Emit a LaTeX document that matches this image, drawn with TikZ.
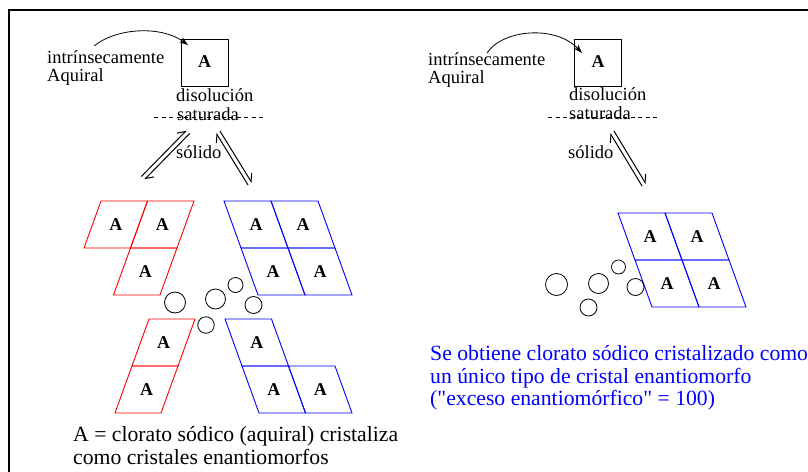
\documentclass[tikz,border=0pt]{standalone}
\usepackage{fontspec}
\setmainfont{Liberation Serif}
\newfontfamily\rawfont{Liberation Serif}[Ligatures=TeXOff]
\usetikzlibrary{arrows.meta,calc}
\newcommand\equil[2]{%
  \draw[harp] ($(#1)!2.2pt!90:(#2)$) -- ($(#2)!2.2pt!-90:(#1)$);
  \draw[harp] ($(#2)!2.2pt!90:(#1)$) -- ($(#1)!2.2pt!-90:(#2)$);}
\begin{document}
\begin{tikzpicture}[x=1pt,y=-1pt,
  lbl/.style={anchor=base west, inner sep=0pt, font=\fontsize{18.5}{18}\selectfont},
  big/.style={anchor=base west, inner sep=0pt, font=\fontsize{21.7}{23}\selectfont},
  cellA/.style={font=\bfseries\fontsize{18}{18}\selectfont, inner sep=0pt, text=black},
  boxA/.style={draw, line width=0.8pt, minimum size=47pt, inner sep=0pt, font=\bfseries\fontsize{18}{18}\selectfont},
  harp/.style={line width=1pt, -{Straight Barb[left,length=7pt,width=10pt]}},
  curv/.style={line width=0.8pt, -{Stealth[length=9pt,width=6pt]}},
  dashln/.style={line width=0.8pt, dash pattern=on 4pt off 3.5pt},
  circ/.style={circle, draw, inner sep=0pt, line width=0.8pt},
  cellline/.style={line width=0.9pt}]
\useasboundingbox (0,0) rectangle (808,471);
% frame
\draw[line width=2pt] (9,480) -- (9,10) -- (820,10);

% ---------- left panel ----------
\node[boxA] (boxL) at (204.5,62.5) {\raisebox{2pt}{A}};
\node[lbl] (intL) at (47,63) {intrínsecamente};
\node[lbl] (aqL) at (47,81) {Aquiral};
\coordinate (cLs) at (94,46);
\coordinate (cLe) at (188,45);
\draw[curv] (cLs) .. controls (118,27) and (162,26) .. (cLe);
\node[lbl] (disL) at (176,101) {disolución};
\node[lbl] (satL) at (177,120) {saturada};
\coordinate (dL1) at (154,117);
\coordinate (dL2) at (263,117);
\draw[dashln] (dL1) -- (dL2);
\node[lbl] (solL) at (176,158) {sólido};
\coordinate (e1a) at (143,178);
\coordinate (e1b) at (188,132);
\equil{e1a}{e1b}
\coordinate (e2a) at (218,132);
\coordinate (e2b) at (250,184);
\equil{e2a}{e2b}

% red upper
\begin{scope}[shift={(101,201)}, x={(46.5pt,0pt)}, y={(-17pt,-47pt)}, red, cellline]
\foreach \i/\j [count=\k] in {0/0,1/0,1/1}{
  \draw (\i,\j) -- ++(1,0) -- ++(0,1) -- ++(-1,0) -- cycle;
  \node[cellA] (ru\k) at (\i+.5,\j+.5) {A};}
\end{scope}
% blue upper
\begin{scope}[shift={(224,201)}, x={(47pt,0pt)}, y={(17pt,-47pt)}, blue, cellline]
\foreach \i/\j [count=\k] in {0/0,1/0,0/1,1/1}{
  \draw (\i,\j) -- ++(1,0) -- ++(0,1) -- ++(-1,0) -- cycle;
  \node[cellA] (bu\k) at (\i+.5,\j+.5) {A};}
\end{scope}
% red lower
\begin{scope}[shift={(149,319)}, x={(46pt,0pt)}, y={(-17pt,-47pt)}, red, cellline]
\foreach \i/\j [count=\k] in {0/0,0/1}{
  \draw (\i,\j) -- ++(1,0) -- ++(0,1) -- ++(-1,0) -- cycle;
  \node[cellA] (rl\k) at (\i+.5,\j+.5) {A};}
\end{scope}
% blue lower
\begin{scope}[shift={(225,319)}, x={(46.5pt,0pt)}, y={(17pt,-47pt)}, blue, cellline]
\foreach \i/\j [count=\k] in {0/0,0/1,1/1}{
  \draw (\i,\j) -- ++(1,0) -- ++(0,1) -- ++(-1,0) -- cycle;
  \node[cellA] (bl\k) at (\i+.5,\j+.5) {A};}
\end{scope}
% circles left
\node[circ, minimum size=21pt] (lc1) at (175,302.5) {};
\node[circ, minimum size=20pt] (lc2) at (215.5,299) {};
\node[circ, minimum size=15pt] (lc3) at (235.5,285) {};
\node[circ, minimum size=17pt] (lc4) at (253.5,305) {};
\node[circ, minimum size=16.5pt] (lc5) at (206,325) {};

\node[big] (txL1) at (73,441) {A = clorato sódico (aquiral) cristaliza};
\node[big] (txL2) at (73,464) {como cristales enantiomorfos};

% ---------- right panel ----------
\node[boxA] (boxR) at (598,62.5) {\raisebox{2pt}{A}};
\node[lbl] (intR) at (428,65) {intrínsecamente};
\node[lbl] (aqR) at (428,83) {Aquiral};
\coordinate (cRs) at (487,53);
\coordinate (cRe) at (582,53);
\draw[curv] (cRs) .. controls (503,29) and (556,25) .. (cRe);
\node[lbl] (disR) at (569,100) {disolución};
\node[lbl] (satR) at (569,119) {saturada};
\coordinate (dR1) at (548,117);
\coordinate (dR2) at (657,117);
\draw[dashln] (dR1) -- (dR2);
\node[lbl] (solR) at (568,158) {sólido};
\coordinate (e3a) at (612,132);
\coordinate (e3b) at (644,185);
\equil{e3a}{e3b}

\begin{scope}[shift={(618,213)}, x={(47pt,0pt)}, y={(17pt,-47pt)}, blue, cellline]
\foreach \i/\j [count=\k] in {0/0,1/0,0/1,1/1}{
  \draw (\i,\j) -- ++(1,0) -- ++(0,1) -- ++(-1,0) -- cycle;
  \node[cellA] (br\k) at (\i+.5,\j+.5) {A};}
\end{scope}
\node[circ, minimum size=22pt] (rc1) at (556.5,284.5) {};
\node[circ, minimum size=20pt] (rc2) at (598.5,283.5) {};
\node[circ, minimum size=14pt] (rc3) at (618.5,267) {};
\node[circ, minimum size=17pt] (rc4) at (635.5,287) {};
\node[circ, minimum size=17pt] (rc5) at (588.5,307.5) {};

\node[big, text=blue] (txR1) at (430,360) {Se obtiene clorato sódico cristalizado como};
\node[big, text=blue] (txR2) at (430,383) {un único tipo de cristal enantiomorfo};
\node[big, text=blue] (txR3) at (430,405) {{\rawfont(\fontsize{21.7}{23}\selectfont"exceso enantiomórfico" = 100)}};
\end{tikzpicture}
\end{document}
